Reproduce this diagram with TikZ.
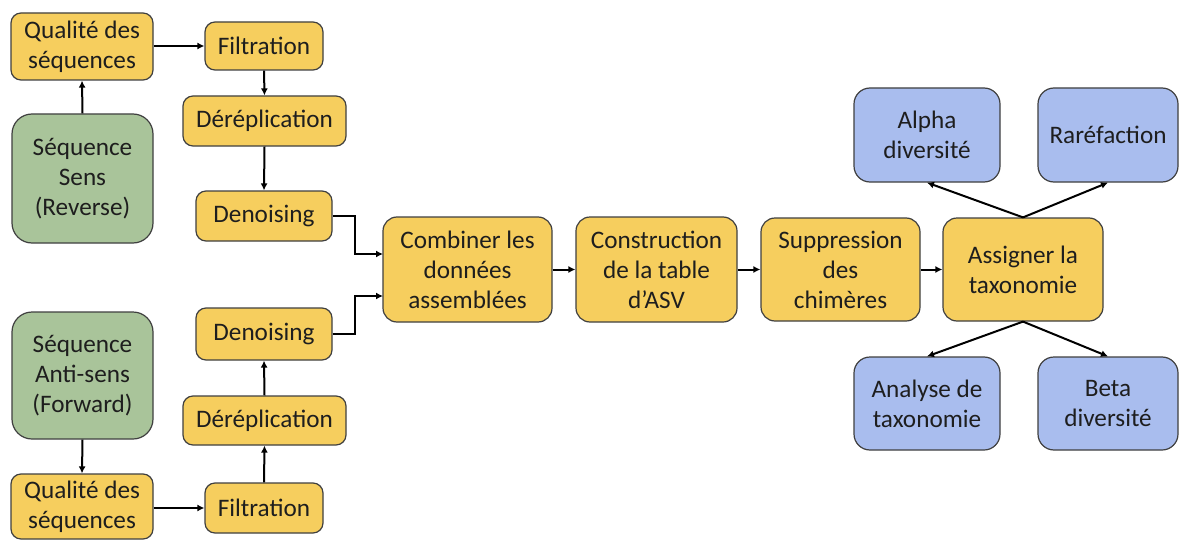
\documentclass[tikz,border=0pt]{standalone}
\usepackage{fontspec}
\setmainfont{Carlito}
\usetikzlibrary{arrows.meta}
\definecolor{ycol}{HTML}{F6CE5E}
\definecolor{gcol}{HTML}{A9C49A}
\definecolor{bcol}{HTML}{A9BDEE}
\definecolor{tcol}{HTML}{1E1E1E}
\begin{document}
\begin{tikzpicture}[x=0.5pt,y=-0.5pt,
  box/.style={draw=black!75, line width=0.6pt, align=center, inner sep=0pt,
    text=tcol, font=\fontsize{12.6pt}{15pt}\selectfont},
  ybox/.style={box, fill=ycol, rounded corners=5pt},
  ybig/.style={box, fill=ycol, rounded corners=7pt},
  gbox/.style={box, fill=gcol, rounded corners=10pt},
  bbox/.style={box, fill=bcol, rounded corners=8pt},
  arr/.style={-{Latex[length=3.5pt,width=3.5pt]}, line width=1pt, black}]
\useasboundingbox (0,0) rectangle (1182,540);
\fill[white] (0,0) rectangle (1182,540);
% left top
\node[ybox, minimum width=71pt, minimum height=33.5pt] (q1) at (82,46.5) {Qualité des\\séquences};
\node[ybox, minimum width=59pt, minimum height=24pt] (f1) at (264,46) {Filtration};
\node[ybox, minimum width=81.5pt, minimum height=25pt] (d1) at (264.5,121) {Déréplication};
\node[ybox, minimum width=68pt, minimum height=25pt] (n1) at (264,216) {Denoising};
\node[gbox, minimum width=70.5pt, minimum height=64.5pt] (s1) at (82.5,178.5) {Séquence\\Sens\\(Reverse)};
% left bottom
\node[gbox, minimum width=70.5pt, minimum height=63.5pt] (s2) at (82.5,375.5) {Séquence\\Anti-sens\\(Forward)};
\node[ybox, minimum width=68pt, minimum height=26pt] (n2) at (264,334) {Denoising};
\node[ybox, minimum width=81.5pt, minimum height=24.5pt] (d2) at (264.5,420.5) {Déréplication};
\node[ybox, minimum width=71pt, minimum height=32.5pt] (q2) at (82,506.5) {Qualité des\\séquences};
\node[ybox, minimum width=59pt, minimum height=25pt] (f2) at (264,508) {Filtration};
% middle
\node[ybig, minimum width=84.5pt, minimum height=52.5pt] (comb) at (467.5,269.5) {Combiner les\\données\\assemblées};
\node[ybig, minimum width=80.5pt, minimum height=52.5pt] (cons) at (656.5,269.5) {Construction\\de la table\\d’ASV};
\node[ybig, minimum width=79.5pt, minimum height=51.5pt] (supp) at (840.5,269.5) {Suppression\\des\\chimères};
\node[ybig, minimum width=80pt, minimum height=51.5pt] (assi) at (1023,269.5) {Assigner la\\taxonomie};
% right
\node[bbox, minimum width=73pt, minimum height=47pt] (alpha) at (927,135) {Alpha\\diversité};
\node[bbox, minimum width=70pt, minimum height=47pt] (rare) at (1108,135) {Raréfaction};
\node[bbox, minimum width=73pt, minimum height=46.5pt] (anal) at (927,403.5) {Analyse de\\taxonomie};
\node[bbox, minimum width=70pt, minimum height=46.5pt] (beta) at (1108,403.5) {Beta\\diversité};
% connectors
\draw[arr] (s1.north) -- (q1.south);
\draw[arr] (q1.east |- f1.west) -- (f1.west);
\draw[arr] (f1.south) -- (d1.north);
\draw[arr] (d1.south) -- (n1.north);
\draw[arr] (s2.south) -- (q2.north);
\draw[arr] (q2.east |- f2.west) -- (f2.west);
\draw[arr] (f2.north) -- (d2.south);
\draw[arr] (d2.north) -- (n2.south);
\coordinate (c1) at (383,254);
\coordinate (c2) at (383,296);
\draw[arr] (n1.east) -- (355,216) |- (c1);
\draw[arr] (n2.east) -- (355,334) |- (c2);
\draw[arr] (comb.east) -- (cons.west);
\draw[arr] (cons.east) -- (supp.west);
\draw[arr] (supp.east) -- (assi.west);
\draw[arr] (assi.north) -- (alpha.south);
\draw[arr] (assi.north) -- (rare.south);
\draw[arr] (assi.south) -- (anal.north);
\draw[arr] (assi.south) -- (beta.north);
\end{tikzpicture}
\end{document}
